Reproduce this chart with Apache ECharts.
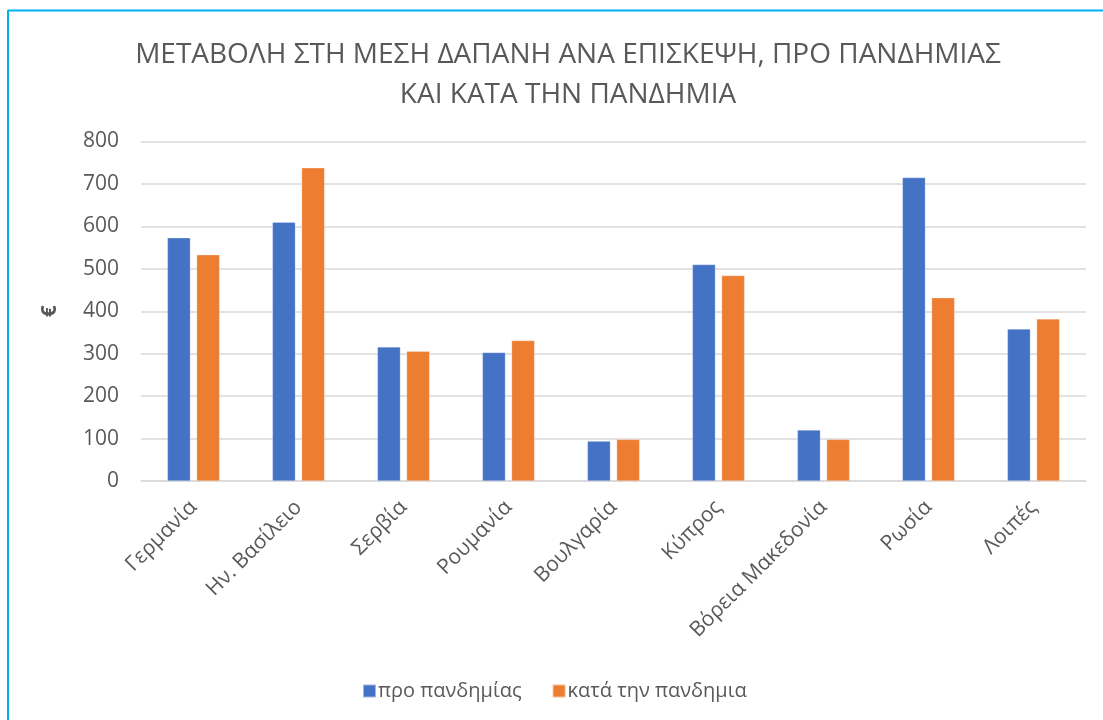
<!DOCTYPE html>
<html>
<head>
<meta charset="utf-8">
<style>
  html, body { margin: 0; padding: 0; background: #fff; }
  #chart { width: 1103px; height: 720px; }
</style>
<script src="https://cdn.jsdelivr.net/npm/echarts@6/dist/echarts.min.js"></script>
</head>
<body>
<div id="chart"></div>
<script>
// ---- data ----
var countries = ["Γερμανία", "Ην. Βασίλειο", "Σερβία", "Ρουμανία", "Βουλγαρία",
                 "Κύπρος", "Βόρεια Μακεδονία", "Ρωσία", "Λοιπές"];
var beforePandemic = [573, 610, 316, 303, 94, 510, 120, 715, 358];
var duringPandemic = [533, 738, 306, 331, 98, 484, 98, 432, 382];
var yTicks = [0, 100, 200, 300, 400, 500, 600, 700, 800];

var FONT = "'Open Sans', 'Noto Sans', sans-serif";
var TEXT = "#595959";
var GRID = "#D9D9D9";

var chart = echarts.init(document.getElementById("chart"));

chart.setOption({
  animation: false,
  textStyle: { fontFamily: FONT },
  // frame: only top and left edges are visible in the picture
  graphic: [
    { type: "line", shape: { x1: 8, y1: 10.5, x2: 1103, y2: 10.5 }, style: { stroke: "#00B0F0", lineWidth: 2 } },
    { type: "line", shape: { x1: 8, y1: 10, x2: 8, y2: 720 }, style: { stroke: "#00B0F0", lineWidth: 2 } }
  ],
  title: {
    text: "ΜΕΤΑΒΟΛΗ ΣΤΗ ΜΕΣΗ ΔΑΠΑΝΗ ΑΝΑ ΕΠΙΣΚΕΨΗ, ΠΡΟ ΠΑΝΔΗΜΙΑΣ\nΚΑΙ ΚΑΤΑ ΤΗΝ ΠΑΝΔΗΜΙΑ",
    left: 563,
    top: 30,
    textAlign: "center",
    textStyle: { fontFamily: FONT, fontSize: 28, fontWeight: "normal", color: TEXT, lineHeight: 40 }
  },
  legend: {
    left: 357,
    top: 676,
    itemWidth: 13,
    itemHeight: 13,
    itemGap: 30,
    icon: "rect",
    textStyle: { fontFamily: FONT, fontSize: 20, color: TEXT, padding: [0, 0, 0, -3] },
    data: ["προ πανδημίας", "κατά την πανδημια"]
  },
  grid: { left: 141, right: 17, top: 141.5, bottom: 239, containLabel: false },
  xAxis: {
    type: "category",
    data: countries,
    axisLine: { lineStyle: { color: GRID, width: 1.5 } },
    axisTick: { show: false },
    axisLabel: { rotate: 45, margin: 23, fontSize: 21, color: TEXT, fontFamily: FONT, interval: 0 }
  },
  yAxis: {
    type: "value",
    min: yTicks[0],
    max: yTicks[yTicks.length - 1],
    interval: 100,
    name: "€",
    nameLocation: "middle",
    nameGap: 80,
    nameRotate: 90,
    nameTextStyle: { fontSize: 21, color: TEXT, fontFamily: FONT, fontWeight: "bold" },
    axisLine: { show: false },
    axisTick: { show: false },
    axisLabel: { fontSize: 21, color: TEXT, fontFamily: FONT, margin: 22 },
    splitLine: { lineStyle: { color: GRID, width: 1.5 } }
  },
  series: [
    {
      name: "προ πανδημίας",
      type: "bar",
      data: beforePandemic,
      barWidth: 23,
      barGap: "27%",
      itemStyle: { color: "#4472C4", borderColor: "rgba(255,255,255,0.5)", borderWidth: 0.5 }
    },
    {
      name: "κατά την πανδημια",
      type: "bar",
      data: duringPandemic,
      barWidth: 23,
      barGap: "27%",
      itemStyle: { color: "#ED7D31", borderColor: "rgba(255,255,255,0.5)", borderWidth: 0.5 }
    }
  ]
});
</script>
</body>
</html>
